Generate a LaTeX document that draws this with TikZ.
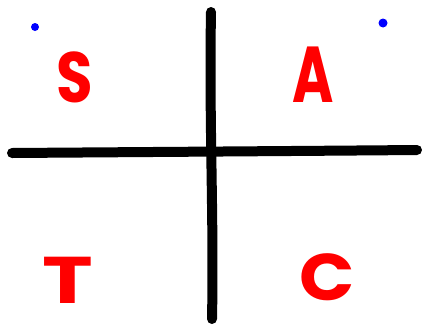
\documentclass[tikz,border=0pt]{standalone}
\usepackage{fontspec}
\setmainfont{Poppins}
\begin{document}
\begin{tikzpicture}[x=1pt,y=-1pt,
  axis/.style={line width=10pt,line cap=round,black},
  letter/.style={text=red,font=\fontsize{66}{66}\selectfont\bfseries,inner sep=0pt,anchor=center},
  blue dot/.style={fill=blue,draw=none}]
\useasboundingbox (0,0) rectangle (422,327);
\coordinate (vt) at (211,12);
\coordinate (vb) at (212,319);
\coordinate (hl) at (12,153);
\coordinate (hr) at (417,150);
\draw[axis] (vt) .. controls (209,120) and (214,220) .. (vb);
\draw[axis] (hl) .. controls (150,152) and (300,151) .. (hr);
\node[letter,xscale=0.9,yscale=1.08] (S) at (75,77) {S};
\node[letter,xscale=0.85,yscale=1.2] (A) at (313,75) {A};
\node[letter,xscale=1.3] (T) at (68,280) {T};
\node[letter,xscale=1.1] (C) at (327,277) {C};
\fill[blue dot] (35,27) circle (4pt);
\fill[blue dot] (383,23) circle (4.5pt);
\end{tikzpicture}
\end{document}
